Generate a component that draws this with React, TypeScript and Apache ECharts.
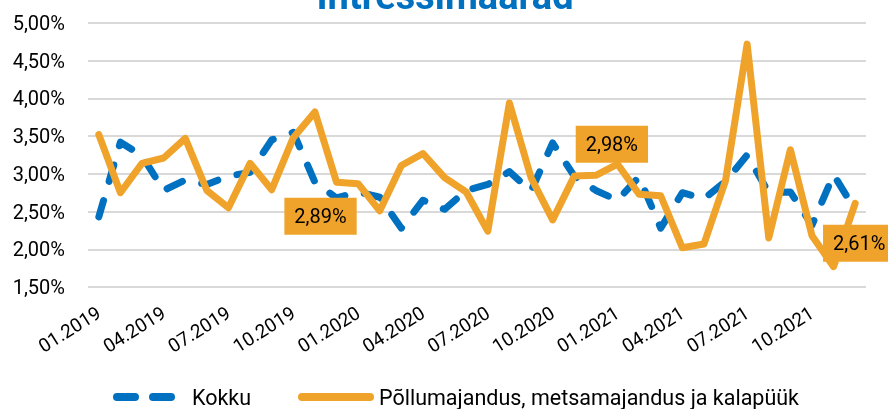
import React, { useEffect, useRef } from "react";
import * as echarts from "echarts";

const chartTitle = "Intressimäärad";
const seriesNames = ["Kokku", "Põllumajandus, metsamajandus ja kalapüük"];

const categories = [
  "01.2019", "02.2019", "03.2019", "04.2019", "05.2019", "06.2019",
  "07.2019", "08.2019", "09.2019", "10.2019", "11.2019", "12.2019",
  "01.2020", "02.2020", "03.2020", "04.2020", "05.2020", "06.2020",
  "07.2020", "08.2020", "09.2020", "10.2020", "11.2020", "12.2020",
  "01.2021", "02.2021", "03.2021", "04.2021", "05.2021", "06.2021",
  "07.2021", "08.2021", "09.2021", "10.2021", "11.2021", "12.2021",
];

const kokku = [
  2.43, 3.42, 3.24, 2.78, 2.92, 2.86, 2.97, 3.02, 3.45, 3.55, 2.89, 2.68,
  2.76, 2.69, 2.28, 2.65, 2.53, 2.78, 2.86, 3.03, 2.77, 3.41, 2.97, 2.78,
  2.65, 2.96, 2.28, 2.75, 2.67, 2.90, 3.25, 2.75, 2.76, 2.32, 2.99, 2.52,
];

const pollumajandus = [
  3.52, 2.75, 3.14, 3.21, 3.47, 2.78, 2.55, 3.14, 2.79, 3.48, 3.82, 2.89,
  2.87, 2.51, 3.11, 3.27, 2.95, 2.76, 2.24, 3.94, 2.95, 2.39, 2.97, 2.98,
  3.13, 2.73, 2.71, 2.02, 2.07, 2.91, 4.72, 2.15, 3.32, 2.18, 1.77, 2.61,
];

const labeledIndices = [11, 23, 35];
const yMin = 1.5;
const yMax = 5;
const yInterval = 0.5;

const BLUE = "#0070C0";
const ORANGE = "#F0A32A";
const FONT = "Roboto";

const labelOffsets: Record<number, [number, number]> = {
  11: [-16, 34],
  23: [16, -31],
  35: [4, 40],
};

// legend icons: two rounded dashes (62x8) and one rounded bar (76x8)
const dashIcon =
  "path://M4,0H22A4,4 0 0 1 22,8H4A4,4 0 0 1 4,0Z M40,0H58A4,4 0 0 1 58,8H40A4,4 0 0 1 40,0Z";
const barIcon = "path://M4,0H72A4,4 0 0 1 72,8H4A4,4 0 0 1 4,0Z";

const fmt = (v: number) => v.toFixed(2).replace(".", ",") + "%";

export default function App() {
  const ref = useRef<HTMLDivElement>(null);
  useEffect(() => {
    const chart = echarts.init(ref.current!, null, { renderer: "svg" });
    const orangeData = pollumajandus.map((v, i) =>
      labeledIndices.includes(i)
        ? {
            value: v,
            symbol: "circle",
            symbolSize: 1,
            label: {
              show: true,
              position: "inside",
              offset: labelOffsets[i],
              formatter: (p: any) => fmt(p.value),
              backgroundColor: ORANGE,
              color: "#000",
              fontSize: 20,
              fontFamily: FONT,
              padding: [9, 10, 8, 10],
            },
          }
        : v
    );
    chart.setOption({
      animation: false,
      textStyle: { fontFamily: FONT },
      grid: { left: 88, right: 22, top: 23, bottom: 122, containLabel: false },
      graphic: [
        {
          type: "text",
          x: 445,
          y: 15,
          style: {
            text: chartTitle,
            fill: BLUE,
            fontSize: 38,
            fontWeight: "bold",
            fontFamily: FONT,
            align: "center",
            verticalAlign: "bottom",
          },
        },
      ],
      legend: [
        {
          data: [{ name: seriesNames[0], icon: dashIcon }],
          left: 108,
          top: 381,
          itemWidth: 62,
          itemHeight: 8,
          textStyle: {
            fontSize: 21.5,
            color: "#000",
            fontFamily: FONT,
            padding: [0, 0, 0, 12],
          },
        },
        {
          data: [{ name: seriesNames[1], icon: barIcon }],
          left: 293,
          top: 381,
          itemWidth: 76,
          itemHeight: 8,
          textStyle: { fontSize: 21.5, color: "#000", fontFamily: FONT },
        },
      ],
      xAxis: {
        type: "category",
        data: categories,
        boundaryGap: true,
        axisLine: { show: false },
        axisTick: { show: false },
        axisLabel: {
          interval: 2,
          rotate: 32,
          fontSize: 19,
          color: "#000",
          margin: 24,
          fontFamily: FONT,
        },
      },
      yAxis: {
        type: "value",
        min: yMin,
        max: yMax,
        interval: yInterval,
        axisLine: { show: false },
        axisTick: { show: false },
        axisLabel: {
          formatter: (v: number) => fmt(v),
          fontSize: 20,
          color: "#000",
          margin: 23,
          fontFamily: FONT,
        },
        splitLine: { lineStyle: { color: "#d9d9d9", width: 2 } },
      },
      series: [
        {
          name: seriesNames[0],
          type: "line",
          data: kokku,
          symbol: "none",
          lineStyle: { color: BLUE, width: 7, type: [17, 20], cap: "round", join: "round" },
          itemStyle: { color: BLUE },
        },
        {
          name: seriesNames[1],
          type: "line",
          data: orangeData,
          symbol: "none",
          lineStyle: { color: ORANGE, width: 7, cap: "round", join: "round" },
          itemStyle: { color: ORANGE },
        },
      ],
    });
    return () => chart.dispose();
  }, []);
  return (
    <div
      ref={ref}
      style={{ position: "fixed", left: 0, top: 0, width: 888, height: 409 }}
    />
  );
}
